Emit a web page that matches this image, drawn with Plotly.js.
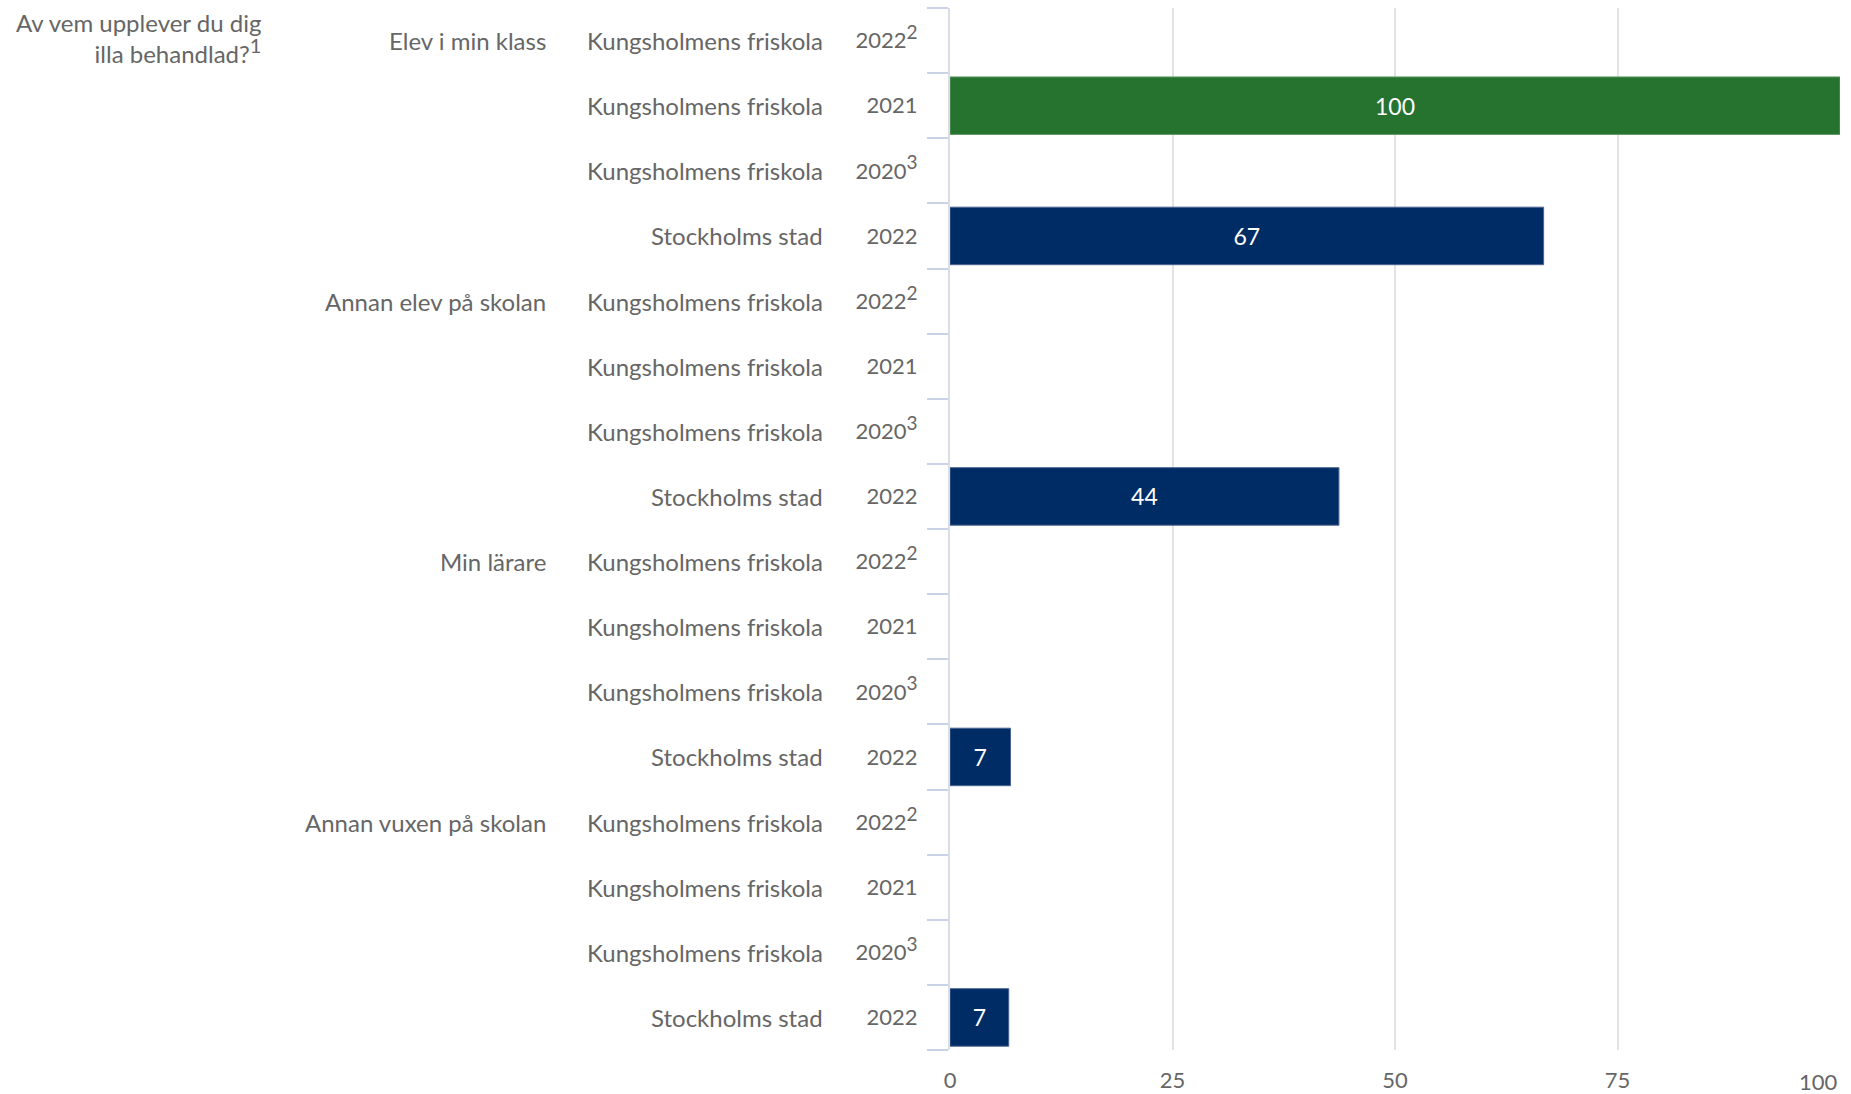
<!DOCTYPE html>
<html><head><meta charset="utf-8">
<script src="https://cdn.plot.ly/plotly-3.0.1.min.js"></script>
<style>html,body{margin:0;padding:0;background:#fff}</style>
</head><body><div id="chart" style="width:1851px;height:1094px"></div>
<script>
const questionTitle = "Av vem upplever du dig<br>illa behandlad?<sup><span style='font-size:20px'>1</span></sup>";
const groups = ["Elev i min klass", "Annan elev på skolan", "Min lärare", "Annan vuxen på skolan"];
const units = ["Kungsholmens friskola", "Kungsholmens friskola", "Kungsholmens friskola", "Stockholms stad"];
const yearLabels = ["2022<sup><span style='font-size:19px'>2</span></sup>", "2021", "2020<sup><span style='font-size:19px'>3</span></sup>", "2022"];
// Kungsholmens friskola values per group: [2022, 2021, 2020]
const kfValues = [[null, 100, null], [null, null, null], [null, null, null], [null, null, null]];
// Stockholms stad 2022 per group
const sthlmValues = [66.7, 43.7, 6.8, 6.6];
const xTicks = [0, 25, 50, 75, 100];
const xTickText = ["0", "25", "50", "75", "100"];

const rows = [], rowYears = [], kfX = [], kfY = [], stX = [], stY = [];
const annotations = [];
const plotL = 950, plotR = 1840;
const toPaper = px => (px - plotL) / (plotR - plotL);
const textColor = "#666666";
const fontFam = "Lato, 'Open Sans', sans-serif";

groups.forEach((g, gi) => {
  units.forEach((u, ui) => {
    const id = "g" + gi + "r" + ui;
    rows.push(id);
    rowYears.push(yearLabels[ui]);
    if (ui < 3) { kfY.push(id); kfX.push(kfValues[gi][ui]); }
    else { stY.push(id); stX.push(sthlmValues[gi]); }
    annotations.push({xref: "paper", yref: "y", x: toPaper(825), y: id, text: u, showarrow: false,
      xanchor: "right", yanchor: "middle", font: {family: fontFam, size: 24, color: textColor}});
    if (ui === 0) {
      annotations.push({xref: "paper", yref: "y", x: toPaper(548), y: id, text: g, showarrow: false,
        xanchor: "right", yanchor: "middle", font: {family: fontFam, size: 24, color: textColor}});
    }
  });
});
annotations.push({xref: "paper", yref: "paper", x: toPaper(263), y: 1.0, yshift: 2, text: questionTitle, showarrow: false,
  xanchor: "right", yanchor: "top", align: "right", font: {family: fontFam, size: 24, color: textColor}});
// last x tick label, kept inside the page like the reference
annotations.push({xref: "x", yref: "paper", x: xTicks[xTicks.length - 1], y: 0, yshift: -31, text: xTickText[xTickText.length - 1],
  showarrow: false, xanchor: "right", yanchor: "middle", font: {family: fontFam, size: 22, color: textColor}});

const labelText = v => v === null ? "" : String(Math.round(v));
const traces = [
  {type: "bar", orientation: "h", name: "Kungsholmens friskola", x: kfX, y: kfY,
   marker: {color: "#267330", line: {color: "#5e9a63", width: 1}},
   text: kfX.map(labelText), textposition: "inside", insidetextanchor: "middle",
   textfont: {family: fontFam, size: 23, color: "#ffffff"}, hoverinfo: "x+y"},
  {type: "bar", orientation: "h", name: "Stockholms stad", x: stX, y: stY,
   marker: {color: "#002c66", line: {color: "#4a6591", width: 1}},
   text: stX.map(labelText), textposition: "inside", insidetextanchor: "middle",
   textfont: {family: fontFam, size: 23, color: "#ffffff"}, hoverinfo: "x+y"}
];

const layout = {
  width: 1851, height: 1094,
  margin: {l: plotL, r: 1851 - plotR, t: 8, b: 44, pad: 0},
  paper_bgcolor: "#ffffff", plot_bgcolor: "#ffffff",
  showlegend: false, barmode: "overlay", bargap: 0.117,
  font: {family: fontFam, size: 22, color: textColor},
  xaxis: {range: [0, 100], tickvals: xTicks, ticktext: xTickText.map((t, i) => i === xTickText.length - 1 ? "" : t),
    showgrid: true, gridcolor: "#e3e3e3", gridwidth: 2,
    zeroline: false, showline: false, ticks: "", fixedrange: true, ticklabelstandoff: 15,
    tickfont: {family: fontFam, size: 22, color: textColor}},
  yaxis: {type: "category", categoryorder: "array", categoryarray: rows, autorange: "reversed",
    tickvals: rows, ticktext: rowYears, tickson: "boundaries", ticks: "outside", ticklen: 21,
    tickcolor: "#c9d3e8", tickwidth: 2, showline: true, linecolor: "#dadde6", linewidth: 2,
    showgrid: false, ticklabelstandoff: 26, fixedrange: true,
    tickfont: {family: fontFam, size: 22, color: textColor}},
  annotations: annotations
};
Plotly.newPlot("chart", traces, layout, {displayModeBar: false, staticPlot: true});
</script></body></html>
